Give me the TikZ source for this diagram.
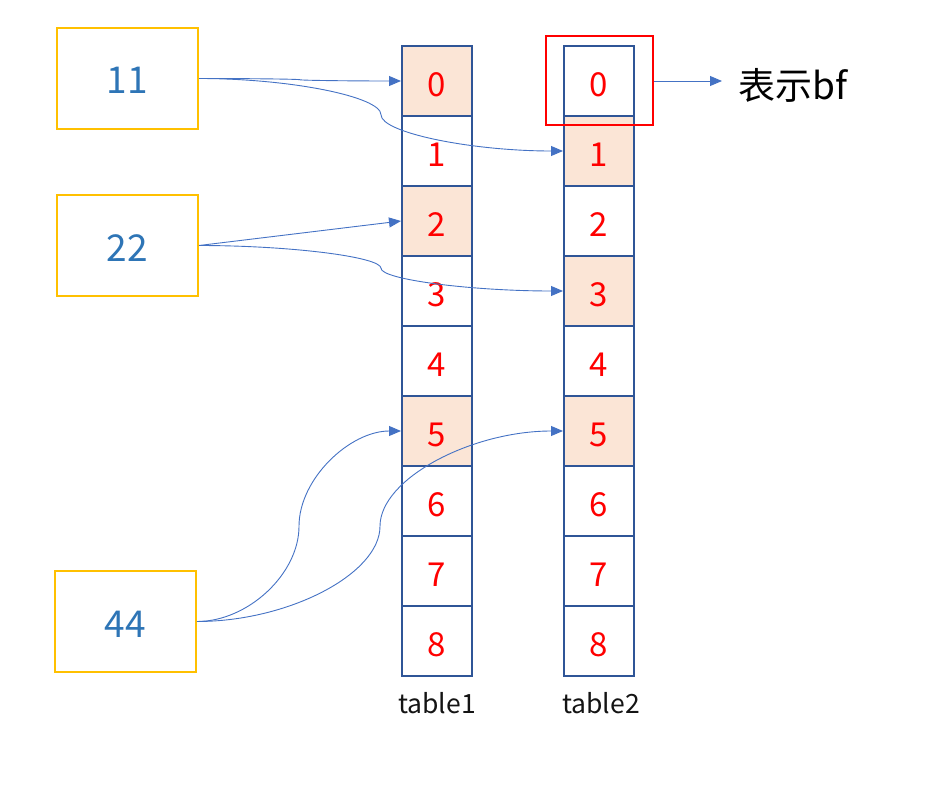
\documentclass[tikz,border=0pt]{standalone}
\usepackage{fontspec}
\setmainfont{Noto Sans CJK SC}
\usetikzlibrary{arrows.meta,calc}
\definecolor{cellline}{HTML}{2F5597}
\definecolor{cellfill}{HTML}{FBE5D6}
\definecolor{yel}{HTML}{FFC000}
\definecolor{numblue}{HTML}{2E75B6}
\definecolor{arr}{HTML}{4472C4}
\tikzset{
  cell/.style={draw=cellline, line width=2pt, minimum width=70pt, minimum height=70pt, inner sep=0pt, text=red, font=\fontsize{33}{33}\selectfont, text height=31pt, text depth=0pt},
  hl/.style={fill=cellfill},
  keybox/.style={draw=yel, line width=2pt, minimum width=141pt, minimum height=101pt, inner sep=0pt, text=numblue, font=\fontsize{37}{37}\selectfont, text height=31pt, text depth=0pt},
  conn/.style={draw=arr, line width=0.9pt, -{Triangle[length=12pt,width=10pt]}},
  lbl/.style={font=\fontsize{26.5}{26.5}\selectfont, text=black!92, inner sep=0pt},
}
\newcommand\ppcurve[2]{%
  \draw[conn] let \p1=(#1), \p2=(#2) in (\p1)
    .. controls ({0.75*\x1+0.25*\x2},\y1) and ({0.5*\x1+0.5*\x2},{0.75*\y1+0.25*\y2})
    .. ({0.5*\x1+0.5*\x2},{0.5*\y1+0.5*\y2})
    .. controls ({0.5*\x1+0.5*\x2},{0.25*\y1+0.75*\y2}) and ({0.25*\x1+0.75*\x2},\y2)
    .. (\p2);}
\begin{document}
\begin{tikzpicture}[x=1pt,y=-1pt]
\useasboundingbox (0,0) rectangle (939,789);
% tables
\foreach \i in {0,...,8} {
  \node[cell] (t1c\i) at (437,{81+70*\i}) {\i};
  \node[cell] (t2c\i) at (599,{81+70*\i}) {\i};
}
\foreach \i in {0,2,5} {\node[cell,hl] at (t1c\i) {\i};}
\foreach \i in {1,3,5} {\node[cell,hl] at (t2c\i) {\i};}
\node[lbl] (l1) at (437,703) {table1};
\node[lbl] (l2) at (601,703) {table2};
% key boxes
\node[keybox] (b11) at (127.5,78.5) {11};
\node[keybox] (b22) at (127.5,245.5) {22};
\node[keybox] (b44) at (125.5,621.5) {44};
% red box
\node[draw=red, line width=1.6pt, minimum width=107pt, minimum height=89pt, inner sep=0pt] (rb) at (599.5,80.5) {};
\coordinate (bfend) at (722,81);
\node[anchor=west, inner sep=0pt, font=\fontsize{37}{37}\selectfont] (bf) at (738,85) {表示bf};
\draw[conn] (rb.east |- bfend) -- (bfend);
% connectors
\ppcurve{b11.east}{t1c0.west}
\ppcurve{b11.east}{t2c1.west}
\draw[conn] (b22.east) -- (t1c2.west);
\ppcurve{b22.east}{t2c3.west}
\ppcurve{b44.east}{t1c5.west}
\ppcurve{b44.east}{t2c5.west}
\end{tikzpicture}
\end{document}
